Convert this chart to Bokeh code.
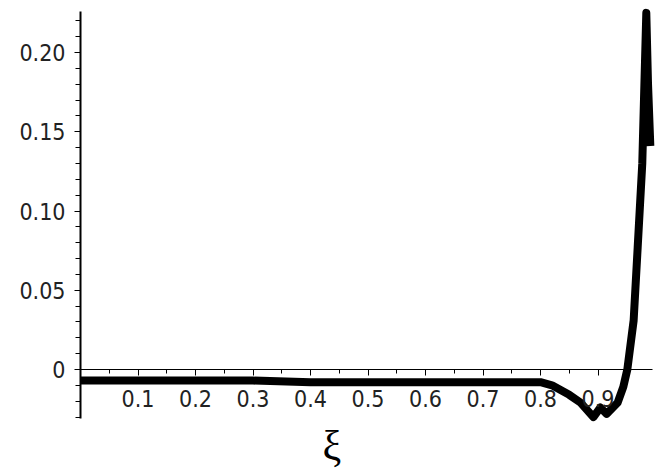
from bokeh.plotting import figure
from bokeh.models import LinearAxis, FixedTicker, Range1d, Label
from bokeh.embed import file_html
from bokeh.resources import INLINE

# data
xi = [0.0, 0.1, 0.2, 0.3, 0.4, 0.45, 0.5, 0.6, 0.7, 0.8, 0.82, 0.85, 0.87,
      0.892, 0.904, 0.915, 0.934, 0.944, 0.951, 0.962, 0.969, 0.977, 0.984,
      0.987, 0.991]
val = [-0.007, -0.007, -0.007, -0.007, -0.008, -0.008, -0.008, -0.008, -0.008,
       -0.008, -0.010, -0.016, -0.021, -0.030, -0.024, -0.028, -0.021, -0.011,
       0.0, 0.031, 0.077, 0.130, 0.225, 0.18, 0.141]

x_major = [0.1, 0.2, 0.3, 0.4, 0.5, 0.6, 0.7, 0.8, 0.9]
x_minor = [0.05, 0.15, 0.25, 0.35, 0.45, 0.55, 0.65, 0.75, 0.85, 0.95]
y_major = [0, 0.05, 0.1, 0.15, 0.2]
y_minor = [-0.03, -0.02, -0.01, 0.01, 0.02, 0.03, 0.04, 0.06, 0.07, 0.08, 0.09,
           0.11, 0.12, 0.13, 0.14, 0.16, 0.17, 0.18, 0.19, 0.21, 0.22]
y_labels = {0: "0", 0.05: "0.05", 0.1: "0.10", 0.15: "0.15", 0.2: "0.20"}

W, H = 658, 468
x0_px, xs = 80, 575.0
y0_px, ys = 369, 1585.0

p = figure(width=W, height=H, output_backend="svg", toolbar_location=None,
           x_range=Range1d(-x0_px / xs, (W - x0_px) / xs),
           y_range=Range1d((y0_px - H) / ys, y0_px / ys),
           min_border=0, x_axis_type=None, y_axis_type=None)
p.outline_line_color = None
p.xgrid.visible = False
p.ygrid.visible = False
p.background_fill_color = "white"

FONT = "DejaVu Sans Condensed"

xa = LinearAxis(fixed_location=0, bounds=(0, 0.995),
                ticker=FixedTicker(ticks=x_major, minor_ticks=x_minor))
xa.axis_line_color = "black"
xa.axis_line_width = 1
xa.major_tick_in = 0
xa.major_tick_out = 6
xa.minor_tick_in = 0
xa.minor_tick_out = 4
xa.major_label_standoff = 14
xa.major_label_text_font = FONT
xa.major_label_text_font_size = "23px"
xa.major_label_text_color = "#222222"
p.add_layout(xa, "below")

ya = LinearAxis(fixed_location=0, bounds=(-0.031, 0.226),
                ticker=FixedTicker(ticks=y_major, minor_ticks=y_minor))
ya.major_label_overrides = y_labels
ya.major_label_orientation = "horizontal"
ya.axis_line_color = "black"
ya.axis_line_width = 2
ya.major_tick_in = 0
ya.major_tick_out = 6
ya.minor_tick_in = 0
ya.minor_tick_out = 5
ya.major_label_standoff = 9
ya.major_label_text_font = FONT
ya.major_label_text_font_size = "23px"
ya.major_label_text_color = "#222222"
p.add_layout(ya, "left")

p.line(xi, val, line_color="black", line_width=8, line_join="round", line_cap="butt")

lab = Label(x=0.437, y=-0.048, text="ξ", text_align="center", text_baseline="middle",
            text_font="Liberation Serif", text_font_size="42px", text_color="black")
p.add_layout(lab)

open("out.html", "w").write(file_html(p, INLINE))
